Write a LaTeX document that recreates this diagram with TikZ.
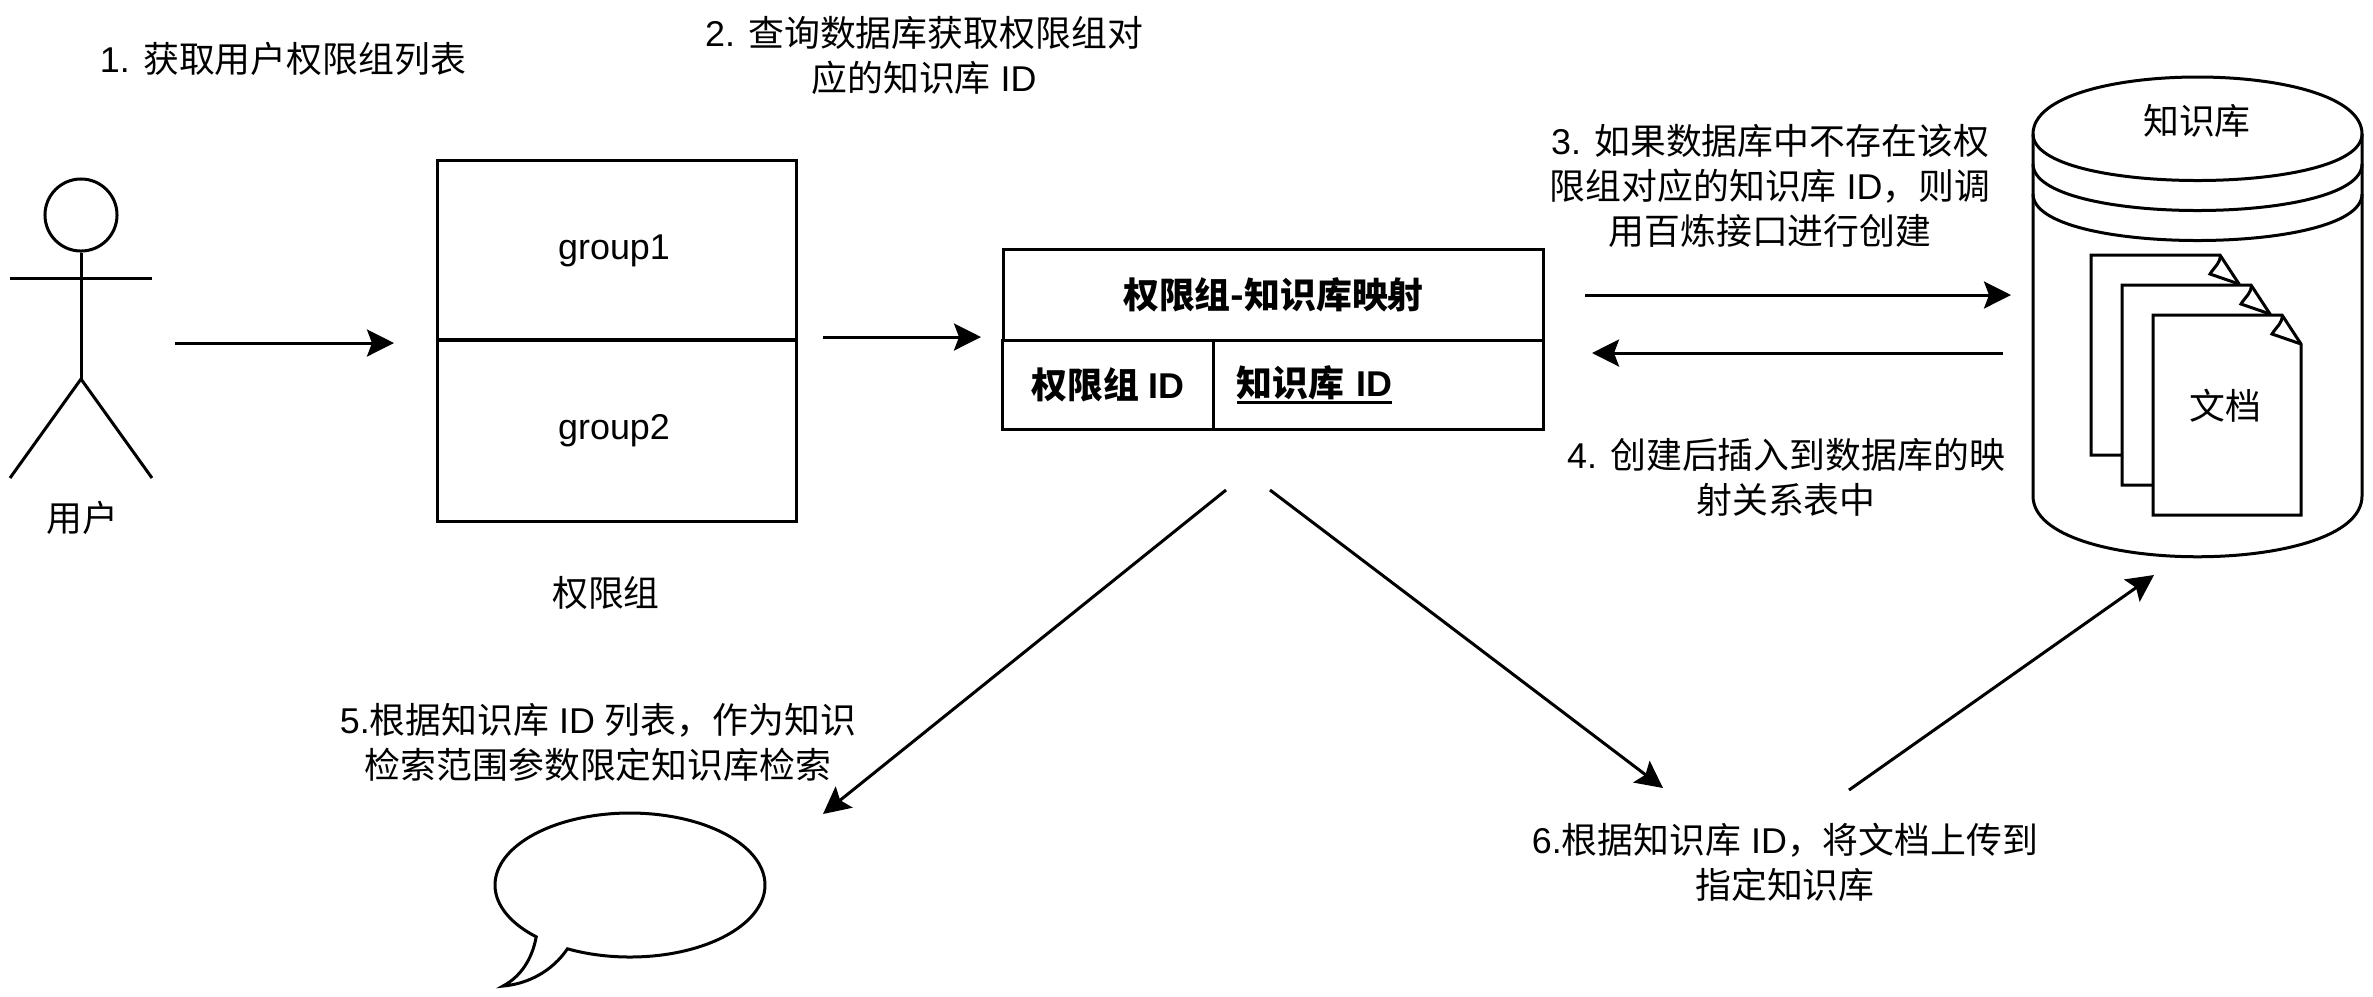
\documentclass[tikz,border=0pt]{standalone}
\usepackage{fontspec}
\setmainfont{Liberation Sans}
\newfontfamily\cjk{Noto Sans CJK SC}
\newcommand{\zh}[1]{{\cjk #1}}
\newcommand{\thickul}[1]{{\setbox0\hbox{#1}\rlap{\rule[-2.1pt]{\wd0}{0.8pt}}\box0}}
\usetikzlibrary{arrows.meta}

\tikzset{
  lbl/.style={align=center,inner sep=0pt,font=\fontsize{10.2}{12.8}\selectfont},
  cell/.style={draw,line width=0.03cm,lbl},
  headcell/.style={cell,font=\fontsize{10.2}{12.8}\selectfont\bfseries},
  flow/.style={-{Stealth[length=0.27cm,width=0.27cm,inset=0.05cm]},line width=0.03cm}
}

\begin{document}
\begin{tikzpicture}[x=0.01cm,y=-0.01cm,line width=0.03cm]

    \useasboundingbox (0,0) rectangle (2373,996);

    % stick figure
    \node (head) [circle,draw,line width=0.03cm,minimum size=0.72cm,inner sep=0pt] at (81,215) {};
    \coordinate (neck) at (81,278);
    \coordinate (hip) at (81,379);
    \draw (head) -- (hip);
    \draw (10,278) -- (neck) -- (152,278);
    \draw (10,478) -- (hip) -- (152,478);
    \node (user) [lbl] at (82,518) {\zh{用户}};

    % group boxes
    \node (group1) [cell,minimum width=3.58cm,minimum height=1.79cm] at (617,250.5) {\raisebox{-0.3pt}{group1}\kern1.7pt};
    \node (group2) [cell,minimum width=3.58cm,minimum height=1.81cm] at (617,430.5) {\raisebox{-0.7pt}{group2}\kern1.7pt};
    \node (groups) [lbl] at (606,593) {\zh{权限组}};

    % mapping table
    \node (maphead) [headcell,minimum width=5.39cm,minimum height=0.9cm] at (1273.5,295) {\zh{权限组-知识库映射}};
    \node (gid) [headcell,minimum width=2.1cm,minimum height=0.89cm] at (1108,385) {\zh{权限组} ID};
    \node (kid) [headcell,inner xsep=0.23cm,text width=2.83cm,minimum height=0.89cm,align=left] at (1378.5,385) {\thickul{\zh{知识库} ID}};

    % knowledge store
    \draw (2033,134) .. controls (2033,58) and (2362,58) .. (2362,134)
      -- (2362,496) .. controls (2362,577) and (2033,577) .. (2033,496) -- cycle;
    \foreach \y in {134,164,194} {
      \draw (2033,\y) .. controls (2033,\y+62) and (2362,\y+62) .. (2362,\y);
    }
    \node (store) [lbl] at (2197,121) {\zh{知识库}};

    % pages
    \foreach \x/\y in {2091/255,2122/285,2153/315} {
      \begin{scope}[shift={(\x,\y)}]
        \draw [fill=white] (0,0) -- (129,0) -- (148,29) -- (148,200) -- (0,200) -- cycle;
        \draw (129,0) .. controls (130,8) and (123,12) .. (119,19) -- (148,29);
      \end{scope}
    }
    \node (doc) [lbl] at (2225,406) {\zh{文档}};

    % speech bubble
    \draw [smooth,variable=\t] plot [domain=118:-226,samples=90] ({630+135*cos(\t)},{885+72*sin(\t)})
      .. controls (532,960) and (520,977) .. (503,986)
      .. controls (527,984) and (552,972) .. (568,948);

    % step labels
    \node (step1) [lbl] at (283,59) {1. \zh{获取用户权限组列表}};
    \node (step2) [lbl] at (924,55) {2. \zh{查询数据库获取权限组对}\\\zh{应的知识库} ID};
    \node (step3) [lbl] at (1770,186) {3. \zh{如果数据库中不存在该权}\\\zh{限组对应的知识库} ID\zh{，则调}\\\zh{用百炼接口进行创建}};
    \node (step4) [lbl] at (1786,477) {4. \zh{创建后插入到数据库的映}\\\zh{射关系表中}};
    \node (step5) [lbl] at (598,742) {5.\zh{根据知识库} ID \zh{列表，作为知识}\\\zh{检索范围参数限定知识库检索}};
    \node (step6) [lbl] at (1785,862) {6.\zh{根据知识库} ID\zh{，将文档上传到}\\\zh{指定知识库}};

    % free arrow ends
    \coordinate (a1s) at (175,343);
    \coordinate (a1e) at (394,343);
    \coordinate (a2s) at (823,337);
    \coordinate (a2e) at (981,337);
    \coordinate (a3s) at (1585,295);
    \coordinate (a3e) at (2011,295);
    \coordinate (a4s) at (2003,353);
    \coordinate (a4e) at (1592,353);
    \coordinate (a5s) at (1226,490);
    \coordinate (a5e) at (823,814);
    \coordinate (a6s) at (1270,490);
    \coordinate (a6e) at (1663,788);
    \coordinate (a7s) at (1849,790);
    \coordinate (a7e) at (2154,575);

    % draw arrows
    \foreach \n in {1,...,7} {
      \draw [flow] (a\n s) -- (a\n e);
    }

\end{tikzpicture}
\end{document}
